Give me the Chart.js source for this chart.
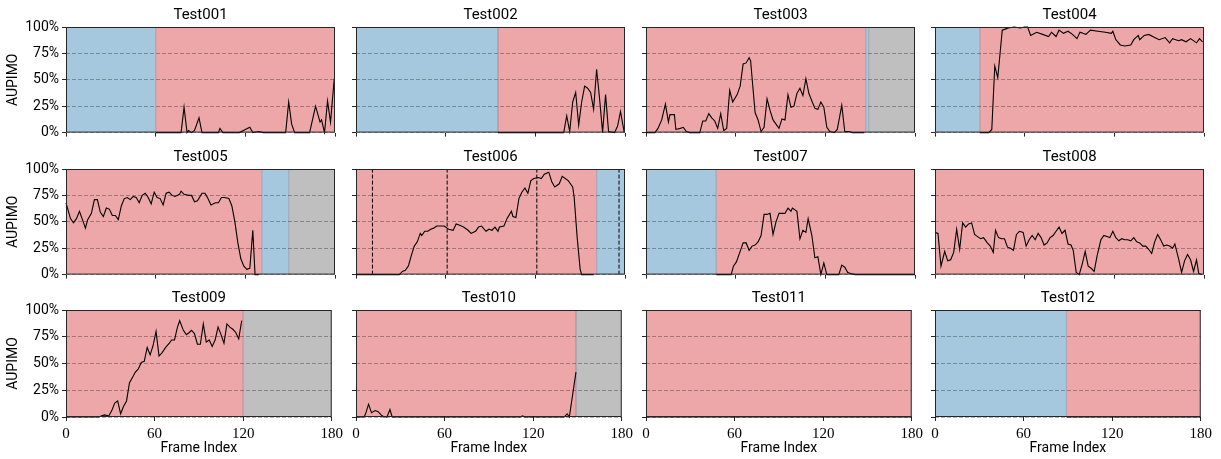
<!DOCTYPE html>
<html>
<head>
<meta charset="utf-8">
<script src="https://cdn.jsdelivr.net/npm/chart.js@4.4.1/dist/chart.umd.min.js"></script>
<style>
  body { margin: 0; background: #fff; }
  #wrap { position: relative; width: 1221px; height: 459px; overflow: hidden; }
  #wrap canvas { position: absolute; }
</style>
</head>
<body>
<div id="wrap"></div>
<script>
// frame index / AUPIMO (%), spans are [kind, startFrame, endFrame]
const t001Frames = [60, 77, 79, 81, 82, 84, 86, 89, 91, 102, 103, 105, 116, 120, 123, 125, 129, 132, 147, 149, 151, 153, 163, 167, 170, 171, 173, 175, 177, 179.5];
const t001Aupimo = [0, 0, 24, 0, 2, 0, 2, 14, 0, 0, 4, 0, 0, 3, 5, 0, 1, 0, 0, 29, 8, 0, 0, 25, 10, 12, 0, 30, 10, 51];
const t001Spans = [['normal', 0, 60], ['anomalous', 60, 180]];

const t002Frames = [95, 139, 141, 143, 145, 147, 149, 151, 153, 155, 157, 159, 161, 163, 165, 167, 169, 173, 175, 177, 179.5];
const t002Aupimo = [0, 0, 16, 1, 29, 38, 7, 29, 44, 42, 38, 22, 60, 32, 0, 36, 1, 0, 6, 20, 0];
const t002Spans = [['normal', 0, 95], ['anomalous', 95, 180]];

const t003Frames = [0, 6, 8, 10.5, 13, 15, 16, 19, 20, 23, 25, 27, 29, 36, 38, 40, 42, 44, 46, 48, 50, 52, 54, 56, 58, 61, 63, 65, 67, 69, 70, 73, 75, 77, 79, 81, 83, 85, 87, 89, 91, 93, 95, 97, 99, 101, 103, 105, 107, 109, 111, 113, 115, 117, 119, 121, 123, 126, 128, 131, 133, 136, 138, 146];
const t003Aupimo = [0, 0, 4, 12, 27, 10, 17, 17, 3, 4, 5, 1, 0, 0, 11, 11, 18, 14, 11, 4, 18, 2, 4, 40, 29, 36, 44, 65, 66, 71, 68, 19, 12, 1, 5, 32, 21, 12, 8, 4, 13, 12, 36, 24, 25, 37, 42, 35, 51, 37, 30, 23, 22, 29, 24, 5, 1, 0, 3, 26, 1, 1, 0, 0];
const t003Spans = [['anomalous', 0, 147], ['normal', 147, 149], ['missing', 149, 180]];

const t004Frames = [30, 36, 38, 40, 42, 45, 47, 49, 53, 57, 60, 62, 64, 68, 72, 76, 78, 81, 83, 86, 89, 92, 95, 97, 101, 104, 109, 114, 118, 119, 121, 124, 127, 131, 133, 136, 137, 140, 143, 147, 150, 154, 157, 159, 163, 165, 168, 171, 175, 177, 179];
const t004Aupimo = [0, 0, 3, 63, 52, 97, 98, 99, 100, 99, 100, 100, 92, 95, 93, 91, 95, 91, 97, 94, 96, 93, 89, 95, 93, 97, 96, 95, 94, 96, 88, 83, 82, 83, 88, 92, 88, 92, 93, 90, 88, 90, 85, 89, 87, 88, 86, 89, 85, 89, 86];
const t004Spans = [['normal', 0, 30], ['anomalous', 30, 180]];

const t005Frames = [0, 3, 5, 7, 9, 11, 13, 14.5, 17, 19, 21, 23, 25, 27, 29, 31, 33, 35, 37, 39, 41, 43, 45, 47, 49, 51, 53, 55, 57, 59, 61, 63, 65, 67, 69, 71, 73, 76, 77, 79, 82, 84, 86, 88, 91, 93, 95, 97, 100, 102, 104, 106, 109, 111, 113, 115, 117, 119, 121, 123, 125, 126.5, 129];
const t005Aupimo = [68, 53, 49, 53, 60, 52, 44, 52, 58, 71, 71, 59, 55, 63, 62, 56, 56, 52, 65, 72, 73, 71, 74, 73, 68, 75, 77, 73, 67, 78, 73, 72, 66, 77, 78, 75, 74, 76, 79, 76, 75, 75, 69, 70, 77, 77, 72, 66, 68, 68, 73, 73, 72, 65, 50, 30, 15, 8, 5, 6, 42, 0, 0];
const t005Spans = [['anomalous', 0, 131], ['normal', 131, 149], ['missing', 149, 180]];

const t006Frames = [0, 29, 31, 33, 35, 37, 39, 41, 43, 44, 46, 48, 50, 52, 54, 57, 59, 62, 65, 67, 69, 72, 75, 77, 80, 82, 84, 87, 89, 91, 93, 95, 96, 99, 101, 104, 105, 107, 109, 111, 113, 115, 117, 119, 122, 124, 126, 129, 131, 133, 136, 138, 140, 142, 145, 146, 148, 150, 151, 159];
const t006Aupimo = [0, 0, 3, 4, 8, 18, 27, 31, 39, 37, 41, 41, 43, 44, 46, 46, 46, 43, 42, 48, 47, 45, 42, 39, 41, 45, 46, 41, 43, 42, 45, 41, 45, 46, 53, 60, 55, 54, 72, 78, 82, 77, 89, 91, 92, 91, 95, 97, 88, 83, 86, 93, 91, 89, 83, 73, 35, 5, 0, 0];
const t006Spans = [['anomalous', 0, 161], ['normal', 161, 180]];
const t006Marks = [11, 61, 121, 176];

const t007Frames = [47, 57, 58.5, 60.5, 63, 65, 67, 69, 71, 73, 75, 77, 79, 81, 83, 85, 87, 89, 91, 93, 95, 97, 98, 101, 103, 105, 107, 108.5, 111, 113, 115, 117, 119, 121, 129, 131, 133, 135, 137, 140, 180];
const t007Aupimo = [0, 0, 8, 12, 22, 30, 30, 23, 27, 28, 31, 37, 57, 57, 58, 38, 50, 58, 58, 58, 63, 60, 63, 60, 34, 42, 40, 53, 37, 16, 17, 0, 11, 0, 0, 9, 7, 2, 1, 0, 0];
const t007Spans = [['normal', 0, 47], ['anomalous', 47, 180]];

const t008Frames = [0, 2, 4, 6.5, 8.5, 10.5, 12.5, 14.5, 16.5, 18.5, 20.5, 22.5, 24.5, 26.5, 28.5, 30.5, 32.5, 35, 37, 39, 40.5, 42.5, 44.5, 46.5, 48.5, 50.5, 52.5, 54.5, 56.5, 59, 61, 63, 65, 67, 69, 71, 73, 75, 77, 79, 81, 83, 85, 87, 89, 91, 92.5, 94.5, 96.5, 98.5, 100.5, 102.5, 104.5, 106.5, 108.5, 111, 113, 115, 117, 119, 121, 123, 125, 127, 129, 131, 133, 135, 137, 139, 141, 143, 145, 147, 149, 151, 153, 155, 157, 159, 160.5, 163, 165, 167, 169, 171, 173, 175, 176.5, 178.5];
const t008Aupimo = [40, 39, 8, 22, 13, 14, 21, 43, 24, 49, 45, 48, 49, 38, 36, 34, 35, 30, 27, 21, 42, 35, 34, 34, 26, 25, 23, 38, 41, 40, 27, 33, 37, 33, 39, 35, 28, 30, 35, 37, 41, 45, 39, 42, 29, 28, 23, 2, 0, 10, 22, 8, 6, 3, 18, 33, 37, 36, 35, 41, 35, 32, 34, 33, 33, 32, 35, 31, 30, 27, 27, 24, 20, 31, 38, 33, 27, 28, 27, 25, 29, 15, 2, 13, 19, 14, 3, 14, 1, 0];
const t008Spans = [['anomalous', 0, 180]];

const t009Frames = [0, 22, 26, 29, 31, 33, 35, 37, 39, 41, 43, 45, 47, 49, 51, 53, 55, 57, 59, 61, 63, 65, 67.5, 70, 71.5, 73.5, 75.5, 77, 79.5, 81.5, 83.5, 85, 87, 89, 91, 93, 95, 97, 99, 101, 103, 105, 107, 109, 111, 113, 115, 117, 119];
const t009Aupimo = [0, 0, 2, 1, 6, 13, 15, 3, 10, 15, 32, 37, 42, 45, 51, 52, 65, 58, 67, 80, 57, 60, 65, 69, 72, 72, 84, 90, 81, 77, 79, 81, 78, 68, 68, 87, 70, 72, 66, 72, 84, 77, 69, 87, 84, 82, 79, 73, 90];
const t009Spans = [['anomalous', 0, 120], ['missing', 120, 180]];

const t010Frames = [0, 5.5, 6.5, 8.5, 10.5, 13, 15, 17, 19, 21, 23, 24.5, 111, 113, 114, 141, 143, 144.5, 149];
const t010Aupimo = [0, 0, 3, 12, 4, 6, 5, 2, 0, 0, 7, 0, 0, 1, 0, 0, 3, 0, 42];
const t010Spans = [['anomalous', 0, 149], ['missing', 149, 180]];

const t011Frames = [0, 180];
const t011Aupimo = [0, 0];
const t011Spans = [['anomalous', 0, 180]];

const t012Frames = [89, 180];
const t012Aupimo = [0, 0];
const t012Spans = [['normal', 0, 89], ['anomalous', 89, 180]];

const xTicks = [0, 60, 120, 180];
const yTicks = [0, 25, 50, 75, 100];

const panels = [
  { name: 'Test001', frames: t001Frames, aupimo: t001Aupimo, spans: t001Spans },
  { name: 'Test002', frames: t002Frames, aupimo: t002Aupimo, spans: t002Spans },
  { name: 'Test003', frames: t003Frames, aupimo: t003Aupimo, spans: t003Spans },
  { name: 'Test004', frames: t004Frames, aupimo: t004Aupimo, spans: t004Spans },
  { name: 'Test005', frames: t005Frames, aupimo: t005Aupimo, spans: t005Spans },
  { name: 'Test006', frames: t006Frames, aupimo: t006Aupimo, spans: t006Spans, marks: t006Marks },
  { name: 'Test007', frames: t007Frames, aupimo: t007Aupimo, spans: t007Spans },
  { name: 'Test008', frames: t008Frames, aupimo: t008Aupimo, spans: t008Spans },
  { name: 'Test009', frames: t009Frames, aupimo: t009Aupimo, spans: t009Spans },
  { name: 'Test010', frames: t010Frames, aupimo: t010Aupimo, spans: t010Spans },
  { name: 'Test011', frames: t011Frames, aupimo: t011Aupimo, spans: t011Spans },
  { name: 'Test012', frames: t012Frames, aupimo: t012Aupimo, spans: t012Spans }
];

const spanColors = { normal: '#a6c8df', anomalous: '#eda7a8', missing: '#bfbfbf' };

// layout of the 4x3 grid (plot area edges in page pixels)
const colLefts = [66, 356, 646, 935];
const rowTops = [27, 169, 310];
const plotW = 269, plotH = 107;
const padL = 66, padR = 12, padT = 27;

Chart.defaults.font.family = 'Roboto';
Chart.defaults.color = '#000';

const framePlugin = {
  id: 'frame',
  afterDraw(chart) {
    const a = chart.chartArea;
    const ctx = chart.ctx;
    ctx.save();
    ctx.strokeStyle = '#262626';
    ctx.lineWidth = 1;
    ctx.strokeRect(a.left + 0.5, a.top + 0.5, a.right - a.left - 1, a.bottom - a.top - 1);
    ctx.restore();
  }
};

const wrap = document.getElementById('wrap');

panels.forEach((p, i) => {
  const col = i % 4;
  const row = Math.floor(i / 4);
  const lastRow = row === 2;
  const padB = lastRow ? 42 : 10;

  const canvas = document.createElement('canvas');
  canvas.width = padL + plotW + padR;
  canvas.height = padT + plotH + padB;
  canvas.style.left = (colLefts[col] - padL) + 'px';
  canvas.style.top = (rowTops[row] - padT) + 'px';
  wrap.appendChild(canvas);

  const datasets = [];

  // the frame index with its AUPIMO
  datasets.push({
    data: p.frames.map((f, k) => ({ x: f, y: p.aupimo[k] })),
    borderColor: '#000',
    borderWidth: 1.1,
    pointRadius: 0,
    fill: false,
    clip: 2,
    order: 0
  });

  // dashed vertical markers
  (p.marks || []).forEach(m => {
    datasets.push({
      data: [{ x: m, y: 0 }, { x: m, y: 100 }],
      borderColor: '#000',
      borderWidth: 1,
      borderDash: [4, 2],
      pointRadius: 0,
      fill: false,
      order: 0
    });
  });

  // seams where two spans meet
  p.spans.slice(1).forEach(s => {
    datasets.push({
      data: [{ x: s[1], y: 0 }, { x: s[1], y: 100 }],
      borderColor: 'rgba(110,110,140,0.55)',
      borderWidth: 1,
      pointRadius: 0,
      fill: false,
      order: 1
    });
  });

  // background spans
  p.spans.forEach(s => {
    datasets.push({
      data: [{ x: s[1], y: 100 }, { x: s[2], y: 100 }],
      borderWidth: 0,
      borderColor: 'rgba(0,0,0,0)',
      backgroundColor: spanColors[s[0]],
      pointRadius: 0,
      fill: 'origin',
      order: 2
    });
  });

  new Chart(canvas, {
    type: 'line',
    data: { datasets: datasets },
    plugins: [framePlugin],
    options: {
      responsive: false,
      animation: false,
      devicePixelRatio: 1,
      layout: { padding: { left: 0, right: padR, top: 0, bottom: 0 } },
      plugins: {
        legend: { display: false },
        tooltip: { enabled: false },
        title: {
          display: true,
          text: p.name,
          fullSize: false,
          font: { size: 15, weight: 'normal' },
          color: '#000',
          padding: { top: 6, bottom: 3 }
        }
      },
      scales: {
        x: {
          type: 'linear',
          min: 0,
          max: 180,
          afterFit(scale) { scale.height = padB; },
          afterBuildTicks(scale) { scale.ticks = xTicks.map(v => ({ value: v })); },
          ticks: {
            autoSkip: false,
            maxRotation: 0,
            padding: 4,
            color: '#000',
            font: { family: 'Liberation Serif', size: 15 },
            callback: v => lastRow ? String(v) : ''
          },
          grid: { drawOnChartArea: false, drawTicks: true, tickLength: 4, tickColor: '#262626' },
          border: { display: false },
          title: {
            display: lastRow,
            text: 'Frame Index',
            color: '#000',
            font: { size: 14 },
            padding: { top: 0, bottom: 2 }
          }
        },
        y: {
          type: 'linear',
          min: 0,
          max: 100,
          afterFit(scale) { scale.width = padL; },
          afterBuildTicks(scale) { scale.ticks = yTicks.map(v => ({ value: v })); },
          ticks: {
            padding: 3,
            color: '#000',
            font: { size: 14 },
            callback: v => col === 0 ? v + '%' : ''
          },
          grid: {
            z: 1,
            color: 'rgba(0,0,0,0.3)',
            lineWidth: 1,
            drawTicks: true,
            tickLength: 4,
            tickColor: '#262626',
            tickBorderDash: []
          },
          border: { display: false, dash: [4, 2] },
          title: {
            display: col === 0,
            text: 'AUPIMO',
            color: '#000',
            font: { size: 14 },
            padding: { top: 5, bottom: 0 }
          }
        }
      }
    }
  });
});
</script>
</body>
</html>
